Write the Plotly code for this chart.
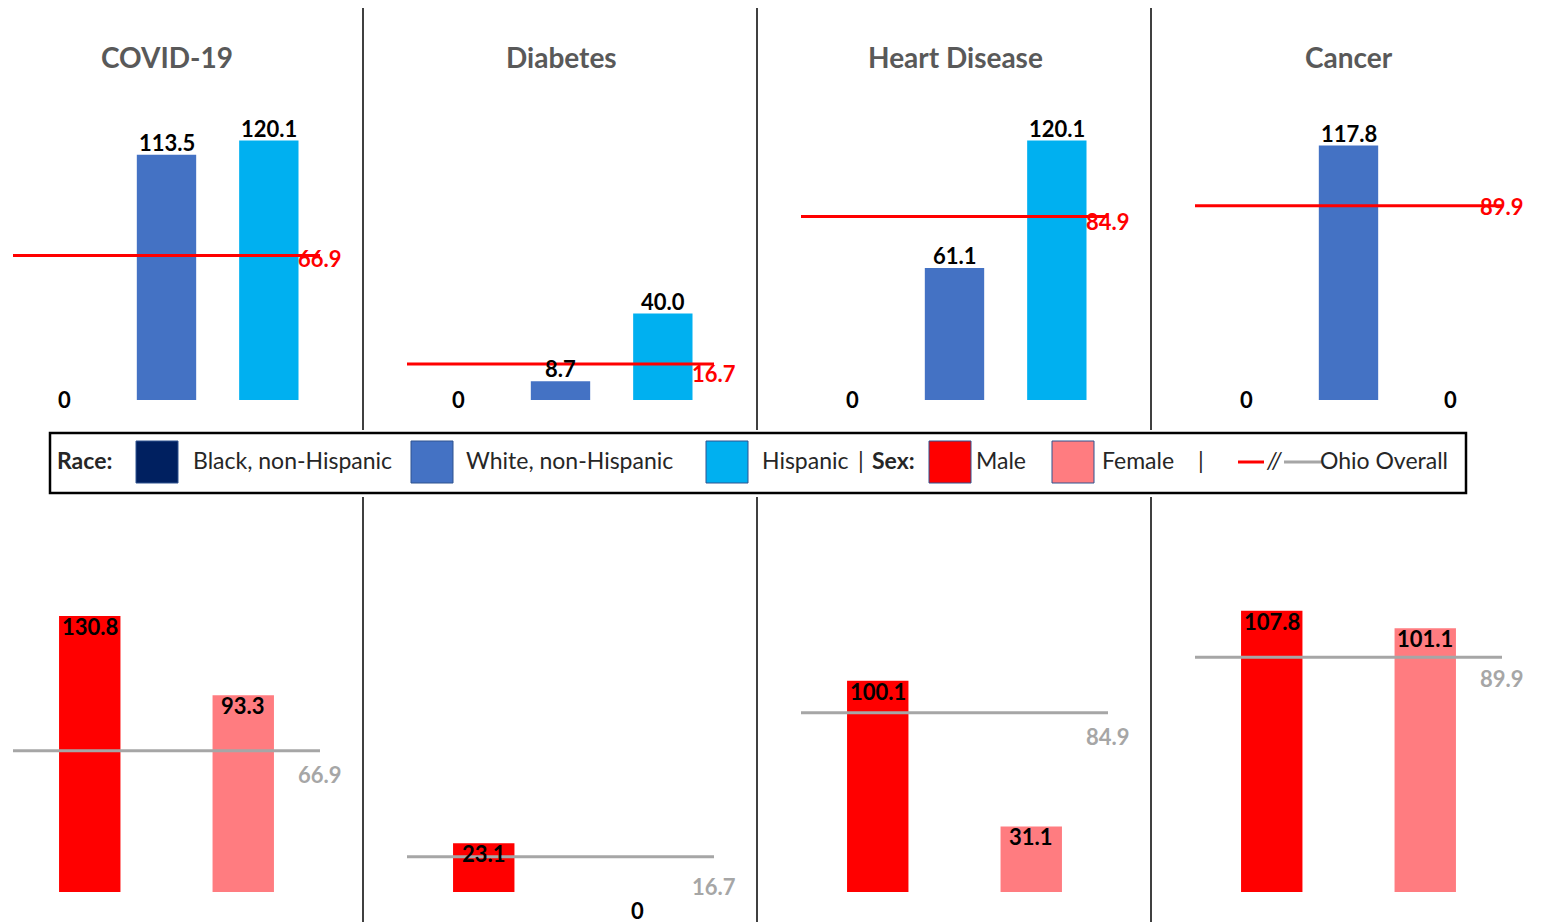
import plotly.graph_objects as go
from plotly.subplots import make_subplots

causes = ["COVID-19", "Diabetes", "Heart Disease", "Cancer"]
race_cats = ["Black, non-Hispanic", "White, non-Hispanic", "Hispanic"]
sex_cats = ["Male", "Female"]

race_vals = {
    "COVID-19": [0, 113.5, 120.1],
    "Diabetes": [0, 8.7, 40.0],
    "Heart Disease": [0, 61.1, 120.1],
    "Cancer": [0, 117.8, 0],
}
sex_vals = {
    "COVID-19": [130.8, 93.3],
    "Diabetes": [23.1, 0],
    "Heart Disease": [100.1, 31.1],
    "Cancer": [107.8, 101.1],
}
ohio_overall = [66.9, 16.7, 84.9, 89.9]

race_colors = ["#002060", "#4472C4", "#00B0F0"]
sex_colors = ["#FF0000", "#FF7C80"]

W, H = 1543, 922
OFF = 8  # page body margin
FONT = "Lato"
VAL_SIZE = 22
LEG_SIZE = 23

fig = make_subplots(rows=2, cols=4)

def px_x(p):
    return (p - OFF) / W

def px_y(p):
    return 1 - (p - OFF) / H

top_scale = 2.16
bot_scales = [2.11, 2.11, 2.11, 2.61]

annotations = []
shapes = []

for c, cause in enumerate(causes):
    x0 = 13 + 394 * c
    x1 = 320 + 394 * c
    ti = c + 1
    bi = c + 5
    fig.add_trace(go.Bar(x=race_cats, y=race_vals[cause], marker_color=race_colors,
                         marker_line_width=0, width=0.58, showlegend=False), row=1, col=c + 1)
    fig.add_trace(go.Bar(x=sex_cats, y=sex_vals[cause], marker_color=sex_colors,
                         marker_line_width=0, width=0.4, showlegend=False), row=2, col=c + 1)

    tsuf = "" if ti == 1 else str(ti)
    bsuf = str(bi)
    fig.layout["xaxis" + tsuf].update(domain=[px_x(x0), px_x(x1)], visible=False,
                                      range=[-0.5, len(race_cats) - 0.5])
    fig.layout["yaxis" + tsuf].update(domain=[px_y(400), px_y(130)],
                                      range=[0, 270 / top_scale], visible=False)
    fig.layout["xaxis" + bsuf].update(domain=[px_x(x0), px_x(x1)], visible=False,
                                      range=[-0.5, len(sex_cats) - 0.5])
    fig.layout["yaxis" + bsuf].update(domain=[px_y(892), px_y(600)],
                                      range=[0, 292 / bot_scales[c]], visible=False)

    # titles
    annotations.append(dict(text="<b>%s</b>" % cause, x=px_x(167 + 394 * c), y=px_y(57),
                            xref="paper", yref="paper", xanchor="center", yanchor="middle",
                            showarrow=False,
                            font=dict(family=FONT, size=28, color="#595959")))

    # value labels top
    for cat, v in zip(race_cats, race_vals[cause]):
        if v == 0:
            annotations.append(dict(text="<b>0</b>", x=cat, y=0, xref="x" + tsuf, yref="y" + tsuf,
                                    yanchor="middle", yshift=1, showarrow=False,
                                    font=dict(family=FONT, size=VAL_SIZE, color="black")))
        else:
            annotations.append(dict(text="<b>%.1f</b>" % v, x=cat, y=v, xref="x" + tsuf, yref="y" + tsuf,
                                    yanchor="bottom", yshift=-3, showarrow=False,
                                    font=dict(family=FONT, size=VAL_SIZE, color="black")))
    # value labels bottom
    for cat, v in zip(sex_cats, sex_vals[cause]):
        annotations.append(dict(text="<b>%s</b>" % ("0" if v == 0 else "%.1f" % v), x=cat, y=v,
                                xref="x" + bsuf, yref="y" + bsuf,
                                yanchor="top", yshift=5 if v > 0 else -3, showarrow=False,
                                font=dict(family=FONT, size=VAL_SIZE, color="black")))

    # ohio overall labels
    tshift = [-3, -10, -5, -1][c]
    annotations.append(dict(text="<b>%.1f</b>" % ohio_overall[c], x=1.0, y=ohio_overall[c],
                            xref="x%s domain" % tsuf, yref="y" + tsuf,
                            xanchor="center", yanchor="middle",
                            yshift=tshift, showarrow=False,
                            font=dict(family=FONT, size=VAL_SIZE, color="#FF0000")))
    bshift = [-24, -30, -24, -21][c]
    annotations.append(dict(text="<b>%.1f</b>" % ohio_overall[c], x=1.0, y=ohio_overall[c],
                            xref="x%s domain" % bsuf, yref="y" + bsuf,
                            xanchor="center", yanchor="middle",
                            yshift=bshift, showarrow=False,
                            font=dict(family=FONT, size=VAL_SIZE, color="#A6A6A6")))

    # Ohio overall lines spanning each panel
    shapes.append(dict(type="line", xref="x%s domain" % tsuf, yref="y" + tsuf,
                       x0=0, x1=1, y0=ohio_overall[c], y1=ohio_overall[c],
                       line=dict(color="#FF0000", width=3), layer="above"))
    shapes.append(dict(type="line", xref="x%s domain" % bsuf, yref="y" + bsuf,
                       x0=0, x1=1, y0=ohio_overall[c], y1=ohio_overall[c],
                       line=dict(color="#A6A6A6", width=3), layer="above"))

# separators
for xs in (363, 757, 1151):
    shapes.append(dict(type="line", xref="paper", yref="paper", x0=px_x(xs), x1=px_x(xs),
                       y0=px_y(5), y1=px_y(430), line=dict(color="black", width=1.5)))
    shapes.append(dict(type="line", xref="paper", yref="paper", x0=px_x(xs), x1=px_x(xs),
                       y0=px_y(497), y1=px_y(930), line=dict(color="black", width=1.5)))

# legend box
shapes.append(dict(type="rect", xref="paper", yref="paper", x0=px_x(50), x1=px_x(1466),
                   y0=px_y(493), y1=px_y(433), line=dict(color="black", width=2.5),
                   fillcolor="white", layer="above"))

LY = 460
def leg_text(txt, xpx, bold=False, anchor="left"):
    annotations.append(dict(text=("<b>%s</b>" % txt) if bold else txt, x=px_x(xpx), y=px_y(LY),
                            xref="paper", yref="paper", xanchor=anchor, yanchor="middle",
                            showarrow=False, font=dict(family=FONT, size=LEG_SIZE, color="#262626")))

def swatch(xpx, color):
    shapes.append(dict(type="rect", xref="paper", yref="paper", x0=px_x(xpx), x1=px_x(xpx + 42),
                       y0=px_y(483), y1=px_y(441), fillcolor=color,
                       line=dict(color="#2F528F", width=1)))

leg_text("Race:", 55, bold=True)
swatch(136, race_colors[0])
leg_text(race_cats[0], 191)
swatch(411, race_colors[1])
leg_text(race_cats[1], 464)
swatch(706, race_colors[2])
leg_text(race_cats[2], 760)
leg_text("|", 861, anchor="center")
leg_text("Sex:", 870, bold=True)
swatch(929, sex_colors[0])
leg_text(sex_cats[0], 974)
swatch(1052, sex_colors[1])
leg_text(sex_cats[1], 1100)
leg_text("|", 1201, anchor="center")
shapes.append(dict(type="line", xref="paper", yref="paper", x0=px_x(1238), x1=px_x(1264),
                   y0=px_y(462), y1=px_y(462), line=dict(color="#FF0000", width=3)))
shapes.append(dict(type="line", xref="paper", yref="paper", x0=px_x(1284), x1=px_x(1322),
                   y0=px_y(462), y1=px_y(462), line=dict(color="#A6A6A6", width=3)))
annotations.append(dict(text="<i>//</i>", x=px_x(1274), y=px_y(LY), xref="paper", yref="paper",
                        xanchor="center", yanchor="middle",
                        showarrow=False, font=dict(family=FONT, size=LEG_SIZE, color="#262626")))
leg_text("Ohio Overall", 1318)

fig.update_layout(width=W, height=H, margin=dict(l=0, r=0, t=0, b=0),
                  paper_bgcolor="white", plot_bgcolor="rgba(0,0,0,0)",
                  annotations=annotations, shapes=shapes,
                  font=dict(family=FONT))

fig.write_html("out.html")
